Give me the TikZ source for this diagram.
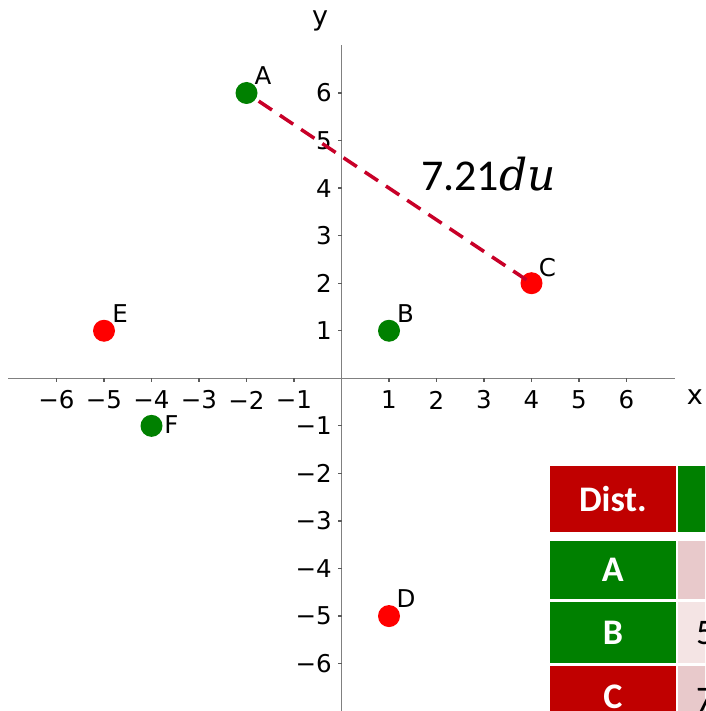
\documentclass[tikz,border=0pt]{standalone}
\usepackage{fontspec}
\setmainfont{DejaVu Sans}
\newfontfamily\calib{Carlito}
\newfontfamily\serifit{DejaVu Serif}
\definecolor{ptgreen}{RGB}{0,128,0}
\definecolor{ptred}{RGB}{255,0,0}
\definecolor{distred}{RGB}{200,0,40}
\definecolor{tabred}{RGB}{192,0,0}
\definecolor{tabgreen}{RGB}{0,128,0}
\definecolor{pinkA}{RGB}{232,201,203}
\definecolor{pinkB}{RGB}{244,228,228}
\definecolor{axisgray}{RGB}{128,128,128}
\begin{document}
\begin{tikzpicture}[x=1pt,y=-1pt,
  axisline/.style={draw=axisgray, line width=1.6pt},
  tickmark/.style={draw=axisgray!70!black, line width=1.2pt},
  ticklbl/.style={inner sep=0pt, font=\fontsize{24.5}{29}\selectfont},
  axislbl/.style={inner sep=0pt, font=\fontsize{27}{32}\selectfont},
  ptlbl/.style={inner sep=0pt, font=\fontsize{24.5}{29}\selectfont, xshift=16.5pt, yshift=17pt},
  dot/.style={circle, minimum size=22pt, inner sep=0pt, outer sep=0pt},
  distline/.style={draw=distred, line width=3.5pt, dash pattern=on 16pt off 9.5pt, dash phase=19.5pt},
  cell/.style={rectangle, inner sep=0pt, outer sep=0pt, minimum width=125.7pt, text=white,
    font=\calib\bfseries\fontsize{36}{43}\selectfont},
  valtxt/.style={inner sep=0pt, anchor=west, text=black, font=\calib\fontsize{36}{43}\selectfont}]
\useasboundingbox (0,0) rectangle (705,711);
\clip (0,0) rectangle (705,711);
\begin{scope}[shift={(341.5,378.3)}, x=47.5pt, y=47.55pt]
  % axes
  \draw[axisline] (-7.02,0) -- (7.02,0);
  \draw[axisline] (0,-7.1) -- (0,7.01);
  % ticks and tick labels
  \foreach \i in {-6,-5,-4,-3,-2,-1,1,2,3,4,5,6} {
    \draw[tickmark] (\i,0) -- ++(0pt,-4pt);
    \draw[tickmark] (0,\i) -- ++(-4pt,0pt);
  }
  \foreach \i in {1,...,6} {
    \node[ticklbl, yshift=-21.7pt] (xp\i) at (\i,0) {\i};
    \node[ticklbl, yshift=-21.7pt] (xn\i) at (-\i,0) {−\i};
    \node[ticklbl, anchor=east, xshift=-9.5pt] (yp\i) at (0,\i) {\i};
    \node[ticklbl, anchor=east, xshift=-9.5pt] (yn\i) at (0,-\i) {−\i};
  }
  \node[axislbl] (ylab) at (-0.45,7.52) {y};
  \node[axislbl] (xlab) at (7.44,-0.39) {x};
  % points
  \node[dot, fill=ptgreen] (A) at (-2,6) {};
  \node[dot, fill=ptgreen] (B) at (1,1) {};
  \node[dot, fill=ptred] (C) at (4,2) {};
  \node[dot, fill=ptred] (D) at (1,-5) {};
  \node[dot, fill=ptred] (E) at (-5,1) {};
  \node[dot, fill=ptgreen] (F) at (-4,-1) {};
  \node[ptlbl] (lA) at (A) {A};
  \node[ptlbl] (lB) at (B) {B};
  \node[ptlbl, xshift=-0.5pt, yshift=-1.5pt] (lC) at (C) {C};
  \node[ptlbl, xshift=0.5pt] (lD) at (D) {D};
  \node[ptlbl, xshift=-0.5pt] (lE) at (E) {E};
  \node[ptlbl, xshift=3.5pt, yshift=-16pt] (lF) at (F) {F};
  % distance line
  \draw[distline] (C.center) -- (A);
\end{scope}
\node[inner sep=0pt, anchor=base west, font=\calib\fontsize{44}{54}\selectfont] (dist) at (421,191) {7.21{\serifit\itshape du}};
% table
\node[cell, fill=tabred, minimum height=66pt] (hd) at (612.85,499) {Dist.};
\node[cell, fill=tabgreen, minimum height=66pt] (hA) at (740.85,499) {};
\node[cell, fill=tabgreen, minimum height=58pt] (rA) at (612.85,570) {A};
\node[cell, fill=tabgreen, minimum height=61pt] (rB) at (612.85,632.5) {B};
\node[cell, fill=tabred, minimum height=61pt] (rC) at (612.85,696.5) {C};
\node[cell, fill=pinkA, minimum height=58pt] (cA) at (740.85,570) {};
\node[cell, fill=pinkB, minimum height=61pt] (cB) at (740.85,632.5) {};
\node[cell, fill=pinkA, minimum height=61pt] (cC) at (740.85,696.5) {};
\node[valtxt] (vB) at (696,633) {5};
\node[valtxt] (vC) at (696,700) {7};
\end{tikzpicture}
\end{document}
